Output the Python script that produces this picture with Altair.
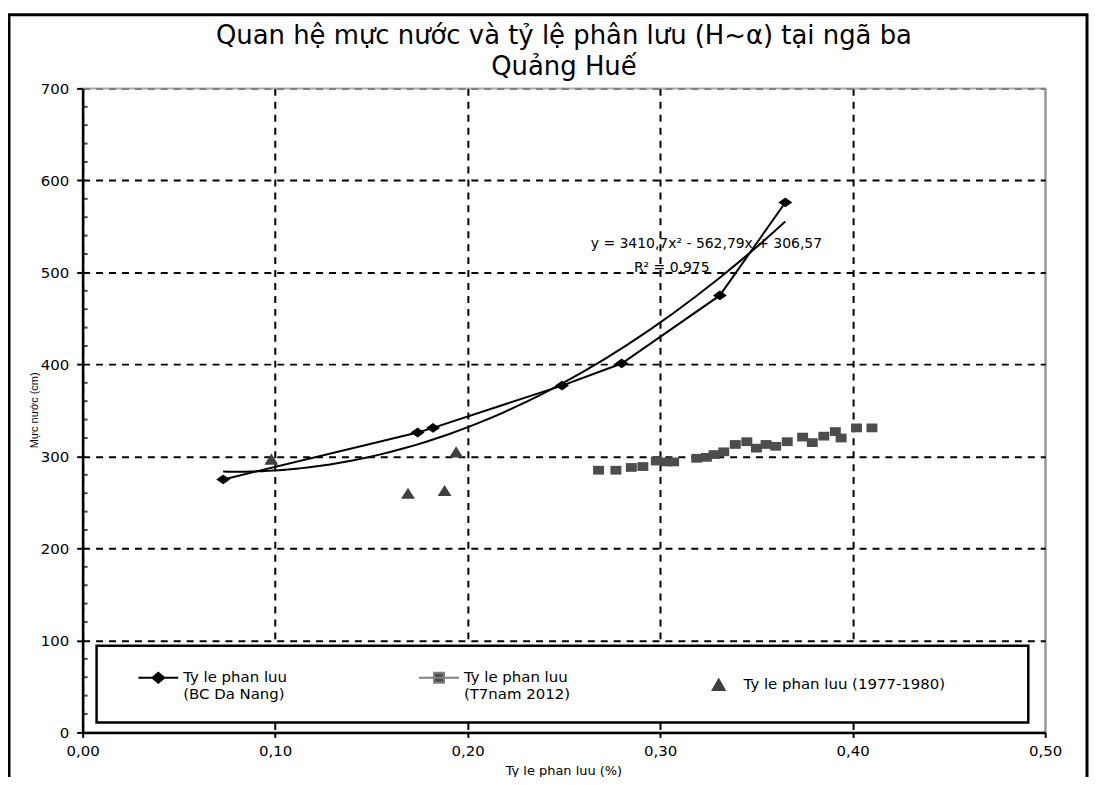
import altair as alt
import pandas as pd

# ---------------- data ----------------
# Series 1: Ty le phan luu (BC Da Nang)
bc_x = [0.073, 0.174, 0.182, 0.249, 0.280, 0.331, 0.365]
bc_y = [275, 326, 331, 377, 401, 475, 576]

# Series 2: Ty le phan luu (T7 nam 2012)
t7_x = [0.268, 0.277, 0.285, 0.291, 0.298, 0.303, 0.307, 0.319, 0.324, 0.328,
        0.333, 0.339, 0.345, 0.350, 0.355, 0.360, 0.366, 0.374, 0.379, 0.385,
        0.391, 0.394, 0.402, 0.410]
t7_y = [285, 285, 288, 289, 295, 294, 294, 298, 299, 302,
        305, 313, 316, 309, 313, 311, 316, 321, 315, 322,
        327, 320, 331, 331]

# Series 3: Ty le phan luu (1977-1980)
old_x = [0.098, 0.169, 0.188, 0.194]
old_y = [297, 260, 263, 305]

series_names = ["Ty le phan luu\n(BC Da Nang)",
                "Ty le phan luu\n(T7nam 2012)",
                "Ty le phan luu (1977-1980)"]
title_lines = ["Quan hệ mực nước và tỷ lệ phân lưu (H~α) tại ngã ba", "Quảng Huế"]
x_title = "Ty le phan luu (%)"
y_title = "Mực nước (cm)"
trend_text = ["y = 3410,7x² - 562,79x + 306,57", "R² = 0,975"]
trend_pos_x = [0.324, 0.306]
trend_pos_y = [531, 505]

x_ticks = [0.0, 0.1, 0.2, 0.3, 0.4, 0.5]
y_ticks = [0, 100, 200, 300, 400, 500, 600, 700]
y_minor = [20, 40, 60, 80, 120, 140, 160, 180, 220, 240, 260, 280,
           320, 340, 360, 380, 420, 440, 460, 480, 520, 540, 560, 580,
           620, 640, 660, 680]

# ---------------- tables ----------------
df_bc = pd.DataFrame({"x": bc_x, "y": bc_y})
df_t7 = pd.DataFrame({"x": t7_x, "y": t7_y})
df_old = pd.DataFrame({"x": old_x, "y": old_y})
df_leg = pd.DataFrame({"series": series_names})
df_txt = pd.DataFrame({"t": trend_text, "x": trend_pos_x, "y": trend_pos_y})
df_minor = pd.DataFrame({"v": y_minor})
df_one = pd.DataFrame({"a": [0]})

FONT = "DejaVu Sans"

xscale = alt.Scale(domain=[0, 0.5], nice=False, zero=False)
yscale = alt.Scale(domain=[0, 700], nice=False)

x_axis = alt.Axis(
    values=x_ticks,
    labelExpr="replace(format(datum.value, '.2f'), '.', ',')",
    title=x_title,
    titleX=483, titleY=38, titleAlign="center", titleBaseline="middle",
    titleFont=FONT, titleFontSize=13, titleFontWeight="normal", titleColor="black",
    labelFont=FONT, labelFontSize=15, labelColor="black", labelPadding=6,
    tickSize=5, tickColor="black", tickWidth=2,
    domainColor="black", domainWidth=2.5,
    grid=True, gridWidth=2,
    gridColor={"condition": {"test": "datum.value > 0.45", "value": "#9a9a9a"}, "value": "black"},
    gridDash={"condition": {"test": "datum.value > 0.45", "value": []}, "value": [7, 6]},
    labelFlush=False,
)
y_axis = alt.Axis(
    values=y_ticks, format="d",
    title=y_title,
    titleX=-48, titleY=323, titleAngle=-90, titleAlign="center", titleBaseline="middle",
    titleFont="Liberation Sans", titleFontSize=11, titleFontWeight="normal", titleColor="black",
    labelFont=FONT, labelFontSize=15, labelColor="black", labelPadding=8,
    tickSize=6, tickColor="black", tickWidth=2,
    domainColor="black", domainWidth=2.5,
    grid=True, gridWidth=2,
    gridColor={"condition": {"test": "datum.value >= 700", "value": "#808080"}, "value": "black"},
    gridDash=[7, 6],
    labelFlush=False,
)

X = lambda: alt.X("x:Q", scale=xscale, axis=x_axis)
Y = lambda: alt.Y("y:Q", scale=yscale, axis=y_axis)

# outer frame of the chart (decoration)
frame = alt.Chart(df_one).mark_rect(fill="transparent", stroke="black", strokeWidth=3).encode(
    x=alt.value(-74), x2=alt.value(1009), y=alt.value(-74), y2=alt.value(720)
)

# minor ticks on the y axis
minor = alt.Chart(df_minor).mark_tick(orient="horizontal", size=4, thickness=2,
                                      color="black", xOffset=3).encode(
    x=alt.datum(0, scale=xscale), y=alt.Y("v:Q", scale=yscale)
)

DIAMOND = "M-1,0L0,-0.7L1,0L0,0.7Z"
SQUARE = "M-1,-0.8L1,-0.8L1,0.8L-1,0.8Z"
TRIANGLE = "M0,-0.8L1,0.8L-1,0.8Z"

bc_line = alt.Chart(df_bc).mark_line(color="black", strokeWidth=2).encode(x=X(), y=Y())
bc_pts = alt.Chart(df_bc).mark_point(shape=DIAMOND, size=196, filled=True, color="black",
                                     opacity=1).encode(x=X(), y=Y())
trend = alt.Chart(df_bc).transform_regression("x", "y", method="poly", order=2).mark_line(
    color="black", strokeWidth=2).encode(x=X(), y=Y())
t7_pts = alt.Chart(df_t7).mark_point(shape=SQUARE, size=121, filled=True, color="#4d4d4d",
                                     opacity=1).encode(x=X(), y=Y())
old_pts = alt.Chart(df_old).mark_point(shape=TRIANGLE, size=196, filled=True, color="#404040",
                                       opacity=1).encode(x=X(), y=Y())

txt = alt.Chart(df_txt).mark_text(font=FONT, fontSize=14, color="black", align="center",
                                  baseline="middle").encode(
    x=alt.X("x:Q", scale=xscale), y=alt.Y("y:Q", scale=yscale), text="t:N")

# legend box (decoration)
legend_box = alt.Chart(df_one).mark_rect(fill="white", stroke="black", strokeWidth=2.5).encode(
    x=alt.value(14), x2=alt.value(950), y=alt.value(560), y2=alt.value(637)
)

LEG_SHAPES = [
    "M-1,0.4L1,0.4M-0.3,0.4L0,0.15L0.3,0.4L0,0.65Z",
    "M-1,0.4L1,0.4M-0.25,0.15L0.25,0.15L0.25,0.65L-0.25,0.65Z",
    "M0,0.12L0.3,0.65L-0.3,0.65Z",
]
leg = alt.Legend(
    title=None, orient="none", legendX=55, legendY=563, direction="horizontal", columns=3,
    columnPadding=128, padding=0, symbolSize=1600, symbolStrokeWidth=2, symbolOpacity=1,
    labelFont=FONT, labelFontSize=15, labelColor="black",
    labelBaseline="top", labelOffset=4, labelLimit=400,
    labelExpr="split(datum.label, '\\n')",
)
legend_layer = alt.Chart(df_leg).mark_point(filled=True, clip=True).encode(
    x=alt.datum(0.25, scale=xscale), y=alt.datum(-500, scale=yscale),
    shape=alt.Shape("series:N", scale=alt.Scale(domain=series_names, range=LEG_SHAPES), legend=leg),
    fill=alt.Fill("series:N", scale=alt.Scale(domain=series_names,
                                               range=["black", "#4d4d4d", "#404040"]), legend=leg),
    stroke=alt.Stroke("series:N", scale=alt.Scale(domain=series_names,
                                                   range=["black", "#808080", "#404040"]), legend=leg),
)

chart = alt.layer(
    frame, minor, bc_line, trend, bc_pts, t7_pts, old_pts, txt, legend_box, legend_layer
).properties(
    width=967, height=647,
    title=alt.TitleParams(text=title_lines, font=FONT, fontSize=26, fontWeight="normal",
                          color="black", anchor="middle", lineHeight=31, offset=9,
                          dy=76, frame="group"),
    autosize=alt.AutoSizeParams(type="none"),
    padding={"left": 75, "top": 79, "right": 45, "bottom": 43},
    background="white",
).configure_view(stroke="#aaaaaa", strokeWidth=2)

chart.save("out.html", embed_options={"renderer": "svg", "actions": False})
